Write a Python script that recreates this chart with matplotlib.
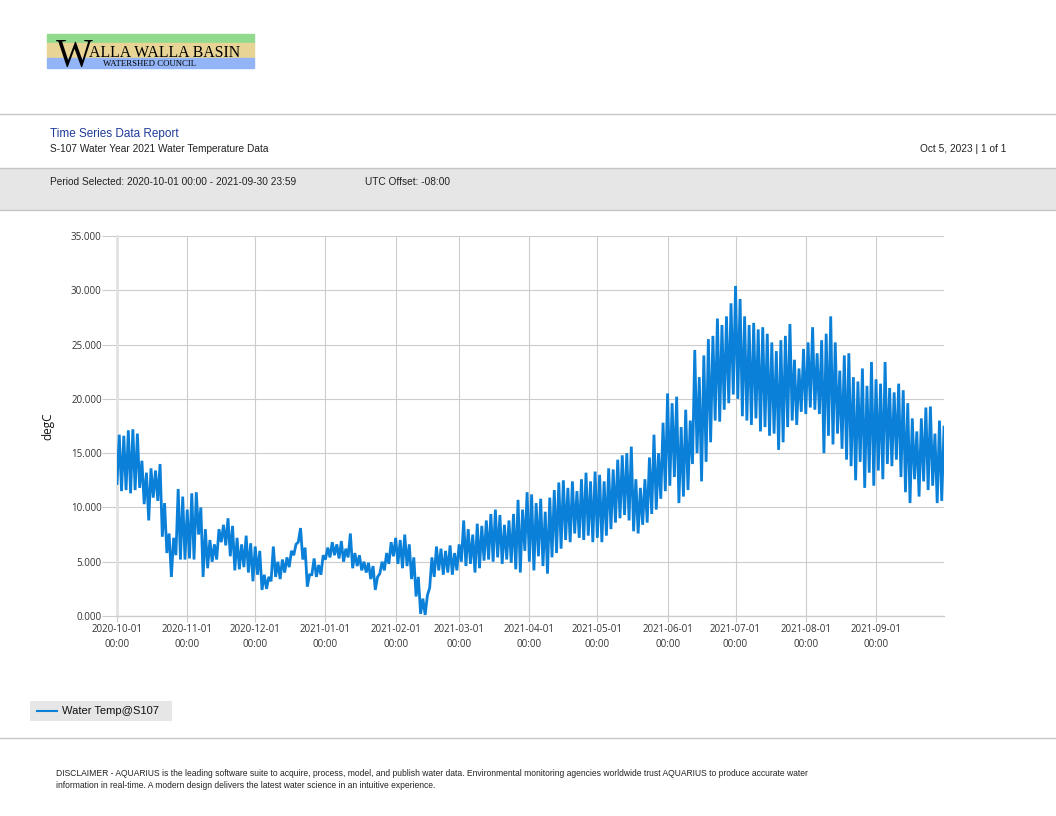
import numpy as np
import matplotlib
matplotlib.use("Agg")
import matplotlib.pyplot as plt
import matplotlib.dates as mdates
from matplotlib.patches import Rectangle

plt.rcParams['font.family'] = ['Liberation Sans', 'DejaVu Sans']

# daily low / high pairs, one pair per two days, starting 2020-10-01
start_date = np.datetime64('2020-10-01T00:00')
lows = [
    # Oct
    12.2, 11.5, 11.6, 11.3, 11.6, 11.8, 10.3, 8.8, 10.9, 10.6, 7.3, 5.8, 3.6, 5.6, 5.2, 5.2,
    # Nov
    5.3, 5.2, 7.5, 3.6, 4.4, 5.0, 5.2, 6.8, 6.5, 5.5, 4.2, 4.3, 4.5, 4.0, 3.2,
    # Dec
    3.8, 2.4, 2.5, 3.2, 3.6, 3.4, 4.0, 4.5, 5.6, 6.8, 5.2, 2.7, 3.8, 3.6, 3.8, 5.2,
    # Jan
    5.4, 5.6, 5.3, 5.0, 5.4, 4.4, 4.6, 4.2, 4.0, 3.4, 2.4, 3.9, 4.2, 4.8, 5.5,
    # Feb
    4.8, 4.4, 4.6, 3.4, 1.8, 0.2, 0.1, 2.6, 3.6, 4.2, 3.8, 4.0, 3.8, 4.2,
    # Mar
    5.0, 4.6, 4.8, 4.0, 4.4, 5.1, 5.2, 5.0, 5.4, 4.8, 5.2, 4.9, 4.3, 4.0, 6.0,
    # Apr
    5.0, 4.2, 5.5, 4.6, 3.9, 5.4, 5.8, 6.2, 7.0, 6.8, 7.6, 7.2, 7.0, 7.4, 6.8,
    # May
    7.2, 6.8, 7.4, 8.0, 8.6, 9.0, 9.3, 8.8, 7.8, 7.6, 8.4, 8.6, 9.4, 9.8, 10.8, 11.5,
    # Jun
    12.0, 12.8, 10.4, 11.0, 11.6, 14.0, 15.0, 12.4, 14.2, 16.0, 18.0, 17.9, 19.0, 19.6, 20.4,
    # Jul
    20.0, 18.4, 18.0, 17.6, 18.2, 17.0, 17.4, 16.6, 16.8, 15.3, 16.0, 17.4, 18.0, 17.6, 18.8, 18.6,
    # Aug
    19.2, 19.0, 18.6, 15.0, 16.6, 15.8, 16.8, 15.4, 14.4, 13.8, 12.5, 14.2, 11.8, 13.2, 12.0,
    # Sep
    13.4, 12.6, 14.0, 13.8, 14.4, 12.8, 11.4, 10.4, 12.6, 11.0, 12.4, 11.6, 12.0, 10.4, 10.6,
]
highs = [
    # Oct
    16.7, 16.6, 17.1, 17.2, 16.8, 14.3, 13.2, 13.6, 13.4, 14.0, 10.4, 7.6, 7.2, 11.7, 11.0, 9.8,
    # Nov
    11.3, 11.4, 10.0, 8.0, 7.0, 6.6, 8.0, 8.4, 9.0, 8.3, 7.2, 6.6, 7.4, 6.7, 6.4,
    # Dec
    6.0, 3.8, 3.6, 6.4, 5.0, 5.2, 5.4, 6.0, 6.6, 8.1, 6.3, 3.8, 5.3, 4.7, 5.6, 6.3,
    # Jan
    6.8, 6.6, 6.9, 6.2, 7.6, 5.8, 5.6, 5.0, 4.9, 4.6, 3.6, 5.0, 5.8, 6.8, 7.2,
    # Feb
    7.0, 7.5, 6.6, 5.4, 3.6, 1.6, 1.9, 5.4, 6.4, 6.2, 6.0, 6.5, 5.8, 6.6,
    # Mar
    8.8, 8.0, 7.5, 8.5, 8.3, 8.8, 9.4, 9.8, 9.3, 8.4, 8.8, 9.4, 10.7, 9.8, 11.4,
    # Apr
    11.2, 10.4, 10.8, 9.6, 10.9, 11.6, 12.3, 12.5, 11.8, 12.4, 11.5, 12.6, 13.2, 12.4, 13.3,
    # May
    13.0, 12.4, 13.6, 13.5, 14.4, 14.8, 15.0, 15.6, 12.6, 11.8, 12.6, 14.6, 16.7, 15.0, 17.8, 20.5,
    # Jun
    19.6, 20.2, 17.4, 19.0, 18.0, 24.5, 22.0, 24.0, 25.5, 25.8, 27.4, 26.8, 27.6, 28.8, 30.4,
    # Jul
    29.2, 27.6, 26.8, 27.0, 26.4, 26.6, 26.0, 25.2, 24.4, 25.4, 25.8, 26.9, 23.6, 22.8, 24.6, 25.2,
    # Aug
    26.6, 24.2, 25.4, 26.0, 27.6, 25.2, 22.6, 24.0, 24.2, 22.0, 21.6, 22.8, 21.2, 23.4, 21.8,
    # Sep
    21.4, 23.4, 21.0, 20.6, 21.4, 20.8, 19.6, 18.2, 17.0, 18.2, 19.2, 19.3, 16.8, 18.0, 17.4,
]

series_name = "Water Temp@S107"
y_ticks = [0, 5, 10, 15, 20, 25, 30, 35]
month_ticks = ['2020-10-01', '2020-11-01', '2020-12-01', '2021-01-01', '2021-02-01',
               '2021-03-01', '2021-04-01', '2021-05-01', '2021-06-01', '2021-07-01',
               '2021-08-01', '2021-09-01']

temps = np.column_stack([lows, highs]).ravel()
times = start_date + np.arange(len(temps)) * np.timedelta64(1, 'D')

W, H = 1056, 816
fig = plt.figure(figsize=(W / 100, H / 100), dpi=100)


def fx(px):
    return px / W


def fy(py):
    return 1 - py / H


# logo
fig.patches.append(Rectangle((fx(47), fy(43)), fx(207), 9 / H, transform=fig.transFigure,
                             color='#92da8e', zorder=0))
fig.patches.append(Rectangle((fx(47), fy(58)), fx(207), 15 / H, transform=fig.transFigure,
                             color='#e8d595', zorder=0))
fig.patches.append(Rectangle((fx(47), fy(68)), fx(207), 10 / H, transform=fig.transFigure,
                             color='#93b5f8', zorder=0))
fig.text(fx(56), fy(66), "W", fontsize=28, family='Liberation Serif', va='baseline', ha='left')
fig.text(fx(89), fy(57), "ALLA WALLA BASIN", fontsize=11.4, family='Liberation Serif',
         va='baseline', ha='left')
fig.text(fx(103), fy(66), "WATERSHED COUNCIL", fontsize=6.3, family='Liberation Serif',
         va='baseline', ha='left')

# header lines and band
line_col = '#c6c6c6'
fig.add_artist(plt.Line2D([0, 1], [fy(114), fy(114)], color=line_col, lw=1))
fig.patches.append(Rectangle((0, fy(210)), 1, 42 / H, transform=fig.transFigure,
                             facecolor='#e6e6e6', edgecolor='none', zorder=0))
fig.add_artist(plt.Line2D([0, 1], [fy(168), fy(168)], color=line_col, lw=1))
fig.add_artist(plt.Line2D([0, 1], [fy(210), fy(210)], color=line_col, lw=1))
fig.add_artist(plt.Line2D([0, 1], [fy(738), fy(738)], color=line_col, lw=1))

fig.text(fx(50), fy(134), "Time Series Data Report", fontsize=8.5, color='#1f3b9a', va='center')
fig.text(fx(50), fy(149), "S-107 Water Year 2021 Water Temperature Data", fontsize=7.3,
         color='#222222', va='center')
fig.text(fx(1006), fy(149), "Oct 5, 2023 | 1 of 1", fontsize=7.3, color='#222222',
         va='center', ha='right')
fig.text(fx(50), fy(182), "Period Selected: 2020-10-01 00:00 - 2021-09-30 23:59", fontsize=7.3,
         color='#222222', va='center')
fig.text(fx(365), fy(182), "UTC Offset: -08:00", fontsize=7.3, color='#222222', va='center')

# chart
ax = fig.add_axes([fx(117), fy(616), fx(944 - 117), 380 / H])
ax.plot(times, temps, color='#0a80d8', lw=2.0, label=series_name, zorder=3,
        solid_joinstyle='miter')
ax.set_ylim(0, 35)
ax.set_xlim(np.datetime64('2020-10-01T00:00'), np.datetime64('2021-10-01T00:00'))
ax.set_yticks(y_ticks)
ax.set_yticklabels([f"{v:.3f}" for v in y_ticks])
tick_dates = [np.datetime64(d + 'T00:00') for d in month_ticks]
ax.set_xticks(tick_dates)
ax.xaxis.set_major_formatter(mdates.DateFormatter('%Y-%m-%d\n%H:%M'))
ax.grid(True, color='#cccccc', lw=0.8)
ax.set_axisbelow(True)
for side in ['top', 'right']:
    ax.spines[side].set_visible(False)
ax.spines['left'].set_color('#e2e2e2')
ax.spines['left'].set_linewidth(2)
ax.spines['bottom'].set_color('#cccccc')
ax.spines['bottom'].set_linewidth(1)
ax.tick_params(axis='y', length=11, color='#cccccc', labelsize=7, labelcolor='#333333', pad=0)
ax.tick_params(axis='x', length=4, color='#cccccc', labelsize=7, labelcolor='#333333', pad=2)
for lbl in ax.get_xticklabels() + ax.get_yticklabels():
    lbl.set_family(['Open Sans', 'DejaVu Sans'])
for lbl in ax.get_xticklabels():
    lbl.set_linespacing(1.5)
ax.set_ylabel("degC", fontsize=8.5, color='#111111', labelpad=12, family=['Open Sans', 'DejaVu Sans'])

# legend box
fig.patches.append(Rectangle((fx(30), fy(721)), fx(142), 20 / H, transform=fig.transFigure,
                             facecolor='#e6e6e6', edgecolor='none', zorder=0))
fig.add_artist(plt.Line2D([fx(37), fx(57)], [fy(711), fy(711)], color='#0a80d8', lw=1.5))
fig.text(fx(62), fy(711), series_name, fontsize=8, color='#111111', va='center')

# disclaimer
fig.text(fx(56), fy(774), "DISCLAIMER - AQUARIUS is the leading software suite to acquire, process, "
         "model, and publish water data. Environmental monitoring agencies worldwide trust "
         "AQUARIUS to produce accurate water", fontsize=6.15, color='#222222', va='center')
fig.text(fx(56), fy(786), "information in real-time. A modern design delivers the latest water "
         "science in an intuitive experience.", fontsize=6.15, color='#222222', va='center')

fig.savefig("out.png", dpi=100)
